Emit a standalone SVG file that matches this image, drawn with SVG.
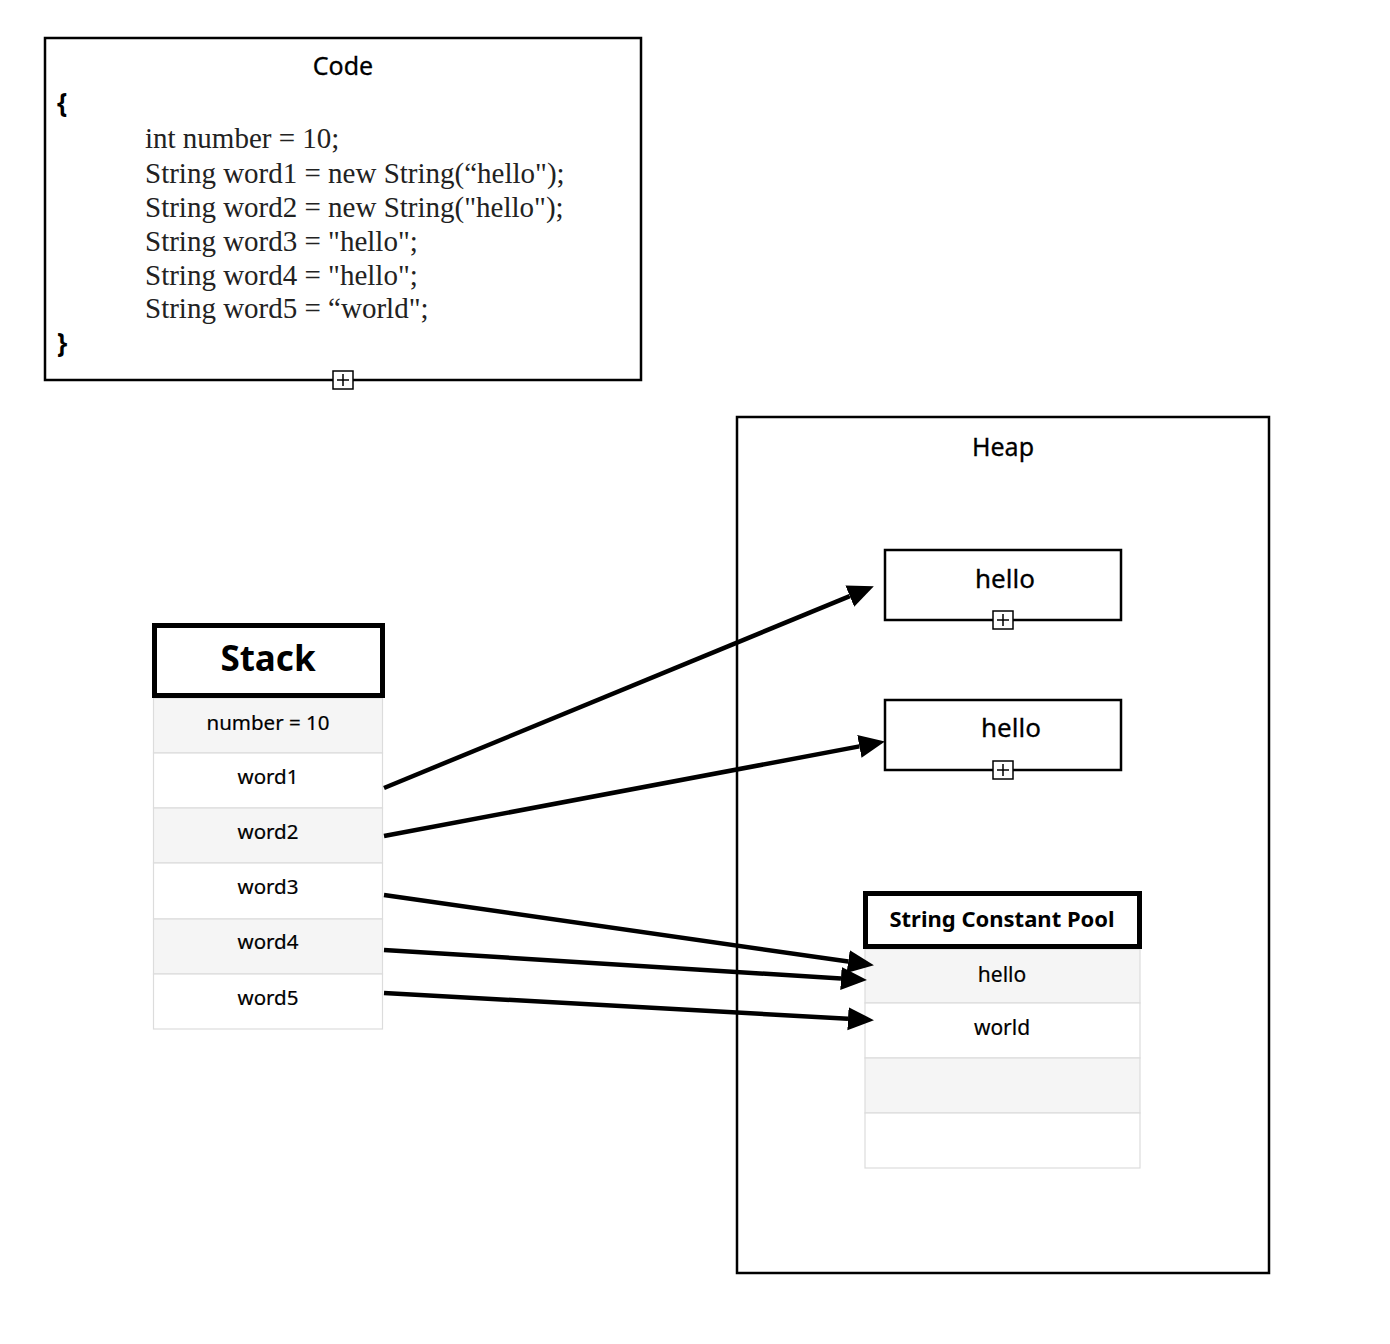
<svg xmlns="http://www.w3.org/2000/svg" width="1390" height="1344" viewBox="0 0 1390 1344">
<style>
.box{fill:#fff;stroke:#000;stroke-width:2.5}
.thick{fill:#fff;stroke:#000;stroke-width:5}
.rowA{fill:#f5f5f5;stroke:#dcdcdc;stroke-width:1.2}
.rowB{fill:#fff;stroke:#dcdcdc;stroke-width:1.2}
.sans{font-family:"Noto Sans","Open Sans","Liberation Sans",sans-serif;fill:#000;text-anchor:middle}
.serif{font-family:"Liberation Serif","Times New Roman",serif;fill:#222;font-size:29px}
.conn{stroke:#000;stroke-width:4.5;fill:none}
.plus{fill:#fff;stroke:#000;stroke-width:1.5}
</style>
<defs>
<marker id="ah" markerUnits="userSpaceOnUse" markerWidth="27" markerHeight="26" refX="0" refY="13" orient="auto">
<path d="M0,1.5 L26,13 L0,24.5 Z" fill="#000"/>
</marker>
<g id="plusIcon">
<rect class="plus" x="-10" y="-9" width="20" height="18"/>
<path d="M-6,0 H6 M0,-6 V6" stroke="#000" stroke-width="1.5"/>
</g>
</defs>
<rect width="1390" height="1344" fill="#fff"/>

<g id="code">
<rect class="box" x="45" y="38" width="596" height="342"/>
<text class="sans" x="343" y="75" font-size="25" stroke="#000" stroke-width="0.3">Code</text>
<text class="sans" x="62" y="112" font-size="26" font-weight="bold">{</text>
<text class="serif" x="145" y="148">int number = 10;</text>
<text class="serif" x="145" y="183">String word1 = new String(“hello");</text>
<text class="serif" x="145" y="217">String word2 = new String("hello");</text>
<text class="serif" x="145" y="251">String word3 = "hello";</text>
<text class="serif" x="145" y="285">String word4 = "hello";</text>
<text class="serif" x="145" y="318">String word5 = “world";</text>
<text class="sans" x="62" y="352" font-size="26" font-weight="bold">}</text>
<use href="#plusIcon" x="343" y="380"/>
</g>

<g id="heap">
<rect class="box" x="737" y="417" width="532" height="856"/>
<text class="sans" x="1003" y="456" font-size="25" stroke="#000" stroke-width="0.3">Heap</text>
</g>

<g id="hello1">
<rect class="box" x="885" y="550" width="236" height="70"/>
<text class="sans" x="1005" y="588" font-size="26" stroke="#000" stroke-width="0.3">hello</text>
<use href="#plusIcon" x="1003" y="620"/>
</g>

<g id="hello2">
<rect class="box" x="885" y="700" width="236" height="70"/>
<text class="sans" x="1011" y="737" font-size="26" stroke="#000" stroke-width="0.3">hello</text>
<use href="#plusIcon" x="1003" y="770"/>
</g>

<g id="stack">
<rect class="rowA" x="153.5" y="698" width="229" height="55"/>
<rect class="rowB" x="153.5" y="753" width="229" height="55"/>
<rect class="rowA" x="153.5" y="808" width="229" height="55"/>
<rect class="rowB" x="153.5" y="863" width="229" height="56"/>
<rect class="rowA" x="153.5" y="919" width="229" height="55"/>
<rect class="rowB" x="153.5" y="974" width="229" height="55"/>
<rect class="thick" x="154.5" y="625.5" width="228" height="70"/>
<text class="sans" x="268" y="671" font-size="35" font-weight="bold">Stack</text>
<text class="sans" x="268" y="730" font-size="20.5" stroke="#000" stroke-width="0.2">number = 10</text>
<text class="sans" x="268" y="784" font-size="20.5" stroke="#000" stroke-width="0.2">word1</text>
<text class="sans" x="268" y="839" font-size="20.5" stroke="#000" stroke-width="0.2">word2</text>
<text class="sans" x="268" y="894" font-size="20.5" stroke="#000" stroke-width="0.2">word3</text>
<text class="sans" x="268" y="949" font-size="20.5" stroke="#000" stroke-width="0.2">word4</text>
<text class="sans" x="268" y="1005" font-size="20.5" stroke="#000" stroke-width="0.2">word5</text>
</g>

<g id="pool">
<rect class="rowA" x="865" y="949" width="275" height="54"/>
<rect class="rowB" x="865" y="1003" width="275" height="55"/>
<rect class="rowA" x="865" y="1058" width="275" height="55"/>
<rect class="rowB" x="865" y="1113" width="275" height="55"/>
<rect class="thick" x="865.5" y="893.5" width="274" height="53"/>
<text class="sans" x="1002" y="927" font-size="22" font-weight="bold">String Constant Pool</text>
<text class="sans" x="1002" y="982" font-size="21" stroke="#000" stroke-width="0.2">hello</text>
<text class="sans" x="1002" y="1035" font-size="21" stroke="#000" stroke-width="0.2">world</text>
</g>

<g id="connectors">
<line class="conn" x1="384" y1="788" x2="849.8" y2="596.1" marker-end="url(#ah)"/>
<line class="conn" x1="384" y1="836" x2="859.4" y2="746.4" marker-end="url(#ah)"/>
<line class="conn" x1="384" y1="895" x2="848.2" y2="961.6" marker-end="url(#ah)"/>
<line class="conn" x1="384" y1="950" x2="841" y2="978.5" marker-end="url(#ah)"/>
<line class="conn" x1="384" y1="993" x2="848" y2="1018.7" marker-end="url(#ah)"/>
</g>
</svg>
